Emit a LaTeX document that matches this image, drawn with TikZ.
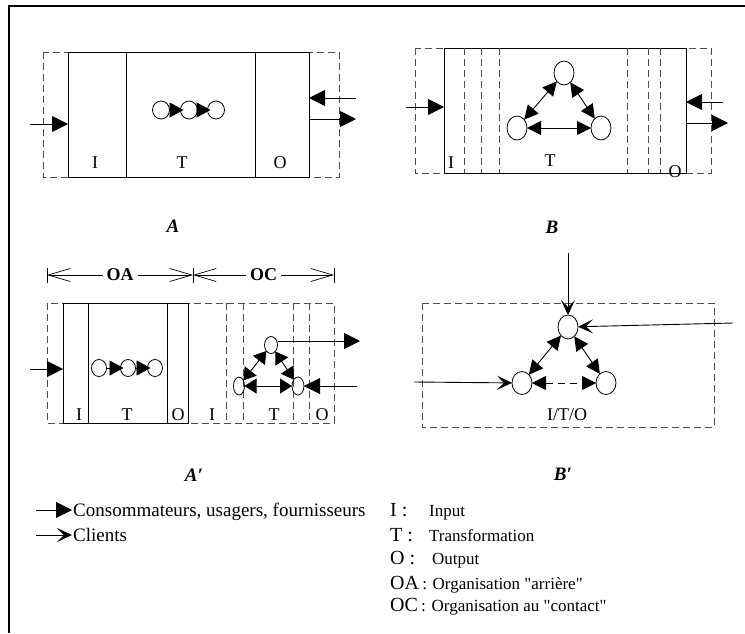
\documentclass[tikz,border=0pt]{standalone}
\usepackage{fontspec}
\setmainfont{Liberation Serif}[Ligatures=TeXOff]
\usetikzlibrary{arrows.meta,shapes.geometric}
\begin{document}
\begin{tikzpicture}[x=1pt,y=-1pt,
  solidbox/.style={draw=black, line width=0.9pt},
  dashbox/.style={draw=black!70, line width=0.9pt, dash pattern=on 7pt off 4pt},
  bub/.style 2 args={draw, ellipse, line width=0.8pt, minimum width=#1, minimum height=#2, inner sep=0pt, outer sep=0pt},
  lbl/.style={inner sep=0pt, font=\fontsize{18}{20}\selectfont},
  figcap/.style={inner sep=0pt, font=\fontsize{19}{21}\selectfont\bfseries\itshape},
  fat/.style={-{Triangle[length=16pt,width=16pt]}, line width=0.9pt},
  fatpair/.style={{Triangle[length=14pt,width=14pt]}-{Triangle[length=14pt,width=14pt]}, line width=0.9pt},
  blob/.style={{Triangle[length=12pt,width=15pt]}-{Triangle[length=12pt,width=15pt]}, line width=0.9pt},
  chain/.style={-{Triangle[length=14pt,width=15pt]}, line width=0.9pt, shorten >=-3pt},
  client/.style={-{Stealth[length=15pt,width=14pt,inset=7pt]}, line width=0.9pt},
  dimarr/.style={{Straight Barb[length=22pt,width=13pt]}-{Straight Barb[length=22pt,width=13pt]}, line width=0.7pt},
  leg/.style={inner sep=0pt, anchor=base west, font=\fontsize{19}{21}\selectfont},
  legkey/.style={inner sep=0pt, anchor=base west, font=\fontsize{20}{22}\selectfont},
  legtxt/.style={inner sep=0pt, anchor=base west, font=\fontsize{17}{19}\selectfont}
]
\useasboundingbox (0,0) rectangle (745,633);

% page frame
\draw[line width=1.6pt] (9,633) -- (9,6) -- (745,6);

% ---------- A : sequential I / T / O ----------
\draw[dashbox] (43,52) rectangle (339,177);
\draw[solidbox] (68,52) rectangle (309,177);
\draw[solidbox] (126,52) -- (126,177) (255,52) -- (255,177);
\node[lbl] (aI) at (95,163) {I};
\node[lbl] (aT) at (182,163) {T};
\node[lbl] (aO) at (280,163) {O};
\node[bub={17pt}{18pt}] (a1) at (161,110) {};
\node[bub={17pt}{18pt}] (a2) at (189,110) {};
\node[bub={17pt}{18pt}] (a3) at (216,110) {};
\draw[chain] (a1) -- (a2);
\draw[chain] (a2) -- (a3);
\coordinate (aInS) at (30,124);  \coordinate (aInE) at (68,124);
\coordinate (aBkS) at (356,98);  \coordinate (aBkE) at (309,98);
\coordinate (aOutS) at (309,119); \coordinate (aOutE) at (356,119);
\draw[fat] (aInS) -- (aInE);
\draw[fat] (aBkS) -- (aBkE);
\draw[fat] (aOutS) -- (aOutE);
\node[figcap] (capA) at (173,226) {A};

% ---------- B : networked I / T / O ----------
\draw[dashbox] (415,48) rectangle (711,173);
\draw[solidbox] (444,48) rectangle (686,173);
\foreach \x in {464,481,499,627,648,660}
  \draw[dashbox] (\x,48) -- (\x,173);
\node[lbl] (bI) at (451,163) {I};
\node[lbl] (bT) at (550,161) {T};
\node[lbl] (bO) at (675,172) {O};
\node[bub={20pt}{24pt}] (bt) at (564,73) {};
\node[bub={20pt}{24pt}] (bl) at (517,128) {};
\node[bub={20pt}{24pt}] (br) at (601,128) {};
\draw[fatpair] (bt) -- (bl);
\draw[fatpair] (bt) -- (br);
\draw[fatpair] (bl) -- (br);
\coordinate (bInS) at (406,107);  \coordinate (bInE) at (444,107);
\coordinate (bBkS) at (723,102);  \coordinate (bBkE) at (686,102);
\coordinate (bOutS) at (686,123); \coordinate (bOutE) at (728,123);
\draw[fat] (bInS) -- (bInE);
\draw[fat] (bBkS) -- (bBkE);
\draw[fat] (bOutS) -- (bOutE);
\node[figcap] (capB) at (552,227) {B};

% ---------- A' : back office + contact office ----------
\coordinate (d0) at (47,275); \coordinate (d1) at (193,275); \coordinate (d2) at (334,275);
\foreach \x in {47,193,334}
  \draw[line width=0.8pt] (\x,268) -- (\x,283);
\draw[dimarr] (d0) -- node[fill=white, inner sep=4pt, font=\fontsize{18}{20}\selectfont\bfseries] (oa) {OA} (d1);
\draw[dimarr] (d1) -- node[fill=white, inner sep=4pt, font=\fontsize{18}{20}\selectfont\bfseries] (oc) {OC} (d2);

\draw[dashbox] (47,303) rectangle (334,423);
\draw[solidbox] (63,303) rectangle (188,423);
\draw[solidbox] (88,303) -- (88,423) (167,303) -- (167,423);
\foreach \x in {226,243,293,309}
  \draw[dashbox] (\x,303) -- (\x,423);
\node[lbl] (pI) at (79,415) {I};
\node[lbl] (pT) at (127,415) {T};
\node[lbl] (pO) at (178,415) {O};
\node[lbl] (qI) at (212,415) {I};
\node[lbl] (qT) at (274,415) {T};
\node[lbl] (qO) at (322,415) {O};
\node[bub={15pt}{17pt}] (p1) at (99,368) {};
\node[bub={15pt}{17pt}] (p2) at (128,368) {};
\node[bub={15pt}{17pt}] (p3) at (155,368) {};
\draw[chain] (p1) -- (p2);
\draw[chain] (p2) -- (p3);
\coordinate (pInS) at (30,369); \coordinate (pInE) at (63,369);
\draw[fat] (pInS) -- (pInE);

\node[bub={13pt}{17pt}] (qt) at (271,345) {};
\node[bub={11pt}{18pt}] (ql) at (239,386) {};
\node[bub={12pt}{18pt}] (qr) at (298,386) {};
\draw[blob] (qt) -- (ql);
\draw[blob] (qt) -- (qr);
\draw[blob] (ql) -- (qr);
\coordinate (qOutE) at (360,341);
\draw[fat] (qt.east |- qOutE) -- (qOutE);
\coordinate (qInS) at (357,386);
\draw[fat] (qInS) -- (qr);
\node[figcap] (capA2) at (194,475) {A′};

% ---------- B' : fully integrated I/T/O ----------
\draw[dashbox] (422,303) rectangle (714,427);
\node[bub={20pt}{24pt}] (ct) at (568,327) {};
\node[bub={20pt}{23pt}] (cl) at (522,383) {};
\node[bub={20pt}{23pt}] (cr) at (606,383) {};
\draw[fatpair] (ct) -- (cl);
\draw[fatpair] (ct) -- (cr);
\draw[fatpair, dash pattern=on 7pt off 5pt] (cl) -- (cr);
\coordinate (cTopS) at (568,253);
\coordinate (cRS) at (733,323);
\coordinate (cLS) at (414,382);
\draw[client] (cTopS) -- (ct);
\draw[client] (cRS) -- (ct);
\draw[client] (cLS) -- (cl);
\node[lbl] (cITO) at (567,415) {I/T/O};
\node[figcap] (capB2) at (563,474) {B′};

% ---------- legend ----------
\coordinate (k1S) at (36,510); \coordinate (k1E) at (72,510);
\coordinate (k2S) at (36,535); \coordinate (k2E) at (72,535);
\draw[fat] (k1S) -- (k1E);
\draw[client] (k2S) -- (k2E);
\node[leg] (k1) at (73,516) {Consommateurs, usagers, fournisseurs};
\node[leg] (k2) at (73,541) {Clients};

\node[legkey] (lI) at (390,516) {I :};
\node[legtxt] (lIt) at (429,516) {Input};
\node[legkey] (lT) at (390,541) {T :};
\node[legtxt] (lTt) at (429,541) {Transformation};
\node[legkey] (lO) at (390,564) {O :};
\node[legtxt] (lOt) at (432,564) {Output};
\node[legkey] (lOA) at (390,589) {OA};
\node[legtxt] (lOAt) at (lOA.base east) {\,: Organisation "arrière"};
\node[legkey] (lOC) at (390,611) {OC};
\node[legtxt] (lOCt) at (lOC.base east) {\,: Organisation au "contact"};
\end{tikzpicture}
\end{document}
